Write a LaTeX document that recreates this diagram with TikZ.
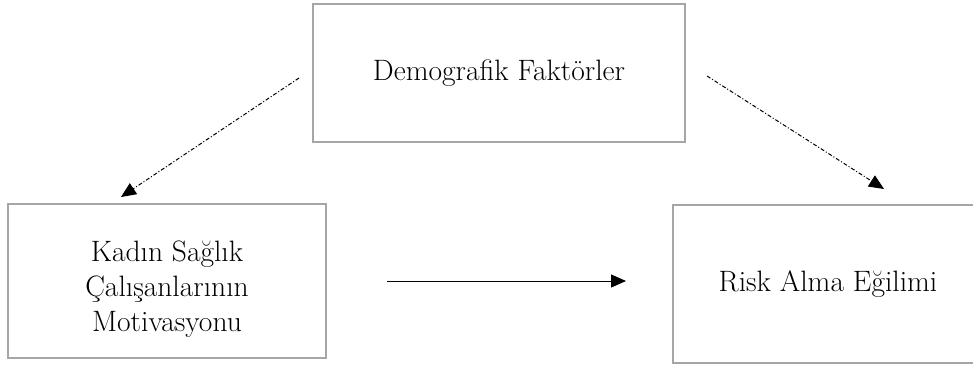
\documentclass[tikz,border=0pt]{standalone}
\usetikzlibrary{arrows.meta}
\begin{document}
\begin{tikzpicture}[x=1pt,y=1pt,
  boxnode/.style={draw=black!35,line width=2pt,inner sep=0pt,align=center,
    font=\fontsize{29.5}{35}\selectfont},
  solidarrow/.style={line width=1pt,-{Triangle[length=15pt,width=13pt]}},
  dasharrow/.style={line width=1pt,dash pattern=on 4pt off 2pt on 1pt off 2pt,
    -{Triangle[length=15pt,width=13pt]}}]
\useasboundingbox (0,0) rectangle (973,365);
\clip (0,0) rectangle (973,365);
\node[boxnode,minimum width=372pt,minimum height=138pt] (demo) at (499,292) {Demografik Faktörler};
\node[boxnode,minimum width=318pt,minimum height=154pt] (motiv) at (167,84) {\rule{0pt}{36pt}Kadın Sağlık\\Çalışanlarının\\Motivasyonu};
\node[boxnode,minimum width=420pt,minimum height=158pt] (risk) at (883,81) {\hspace*{-110pt}Risk Alma Eğilimi};
\coordinate (l1) at (299,287);
\coordinate (l2) at (121,168);
\coordinate (r1) at (707,289);
\coordinate (r2) at (884,176);
\coordinate (h1) at (387,84);
\coordinate (h2) at (626,84);
\draw[dasharrow] (l1) -- (l2);
\draw[dasharrow] (r1) -- (r2);
\draw[solidarrow] (h1) -- (h2);
\end{tikzpicture}
\end{document}
